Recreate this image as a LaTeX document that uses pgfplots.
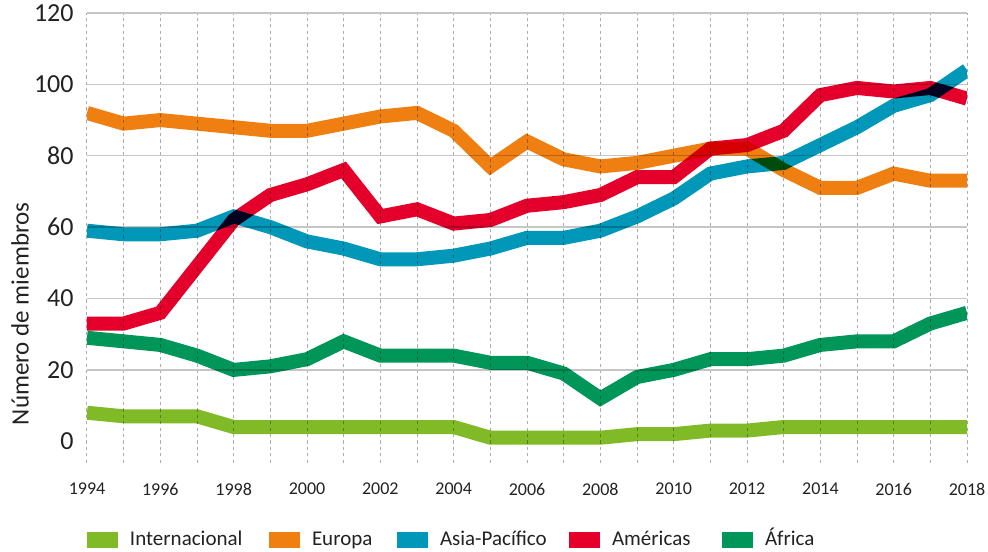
\documentclass[border=0pt]{standalone}
\usepackage{pgfplots}
\pgfplotsset{compat=1.18}
\usepackage{pgfplotstable}
\usepackage{fontspec}
\setmainfont{Carlito}
\definecolor{cInt}{HTML}{80BA27}
\definecolor{cEur}{HTML}{F07F12}
\definecolor{cAsi}{HTML}{0097B8}
\definecolor{cAme}{HTML}{E4002B}
\definecolor{cAfr}{HTML}{00965A}
\definecolor{txt}{HTML}{222222}
\pgfplotstableread{
year int eur asi ame afr
1994 8 92 59 33 29
1995 7 89 58 33 28
1996 7 90 58 36 27
1997 7 89 59 49 24
1998 4 88 63 62 20
1999 4 87 60 69 21
2000 4 87 56 72 23
2001 4 89 54 76 28
2002 4 91 51 63 24
2003 4 92 51 65 24
2004 4 87 52 61 24
2005 1 77 54 62 22
2006 1 84 57 66 22
2007 1 79 57 67 19
2008 1 77 59 69 12
2009 2 78 63 74 18
2010 2 80 68 74 20
2011 3 82 75 82 23
2012 3 82 77 83 23
2013 4 76 78 87 24
2014 4 71 83 97 27
2015 4 71 88 99 28
2016 4 75 94 98 28
2017 4 73 97 99 33
2018 4 73 104 96 36
}\data
\begin{document}
\begin{tikzpicture}
\useasboundingbox (-43.5pt,-44.15pt) rectangle (450.5pt,231.35pt);
\begin{axis}[
  at={(0,0)}, anchor=south west,
  scale only axis, width=440pt, height=224.85pt,
  xmin=1994, xmax=2018, ymin=-6, ymax=120,
  axis line style={draw=none},
  major tick length=0pt, minor tick length=0pt,
  xtick={1994,1996,...,2018},
  minor xtick={1995,1997,...,2017},
  xmajorgrids, xminorgrids,
  grid style={dashed, dash pattern=on 1.6pt off 1.6pt, gray!65, line width=0.5pt},
  ytick={0,20,...,120},
  extra y ticks={20,40,...,120},
  extra y tick labels={},
  extra y tick style={grid=major, major grid style={solid, gray!45, line width=0.7pt}},
  /pgf/number format/1000 sep={},
  /pgf/number format/assume math mode=true,
  xticklabel style={font=\fontsize{9}{10}\selectfont, text=txt, anchor=center, inner sep=0pt, yshift=-13.2pt},
  yticklabel style={font=\fontsize{13}{15}\selectfont, text=txt, anchor=east, inner sep=0pt, xshift=-6.5pt},
  ylabel={Número de miembros},
  ylabel style={font=\fontsize{12.5}{15}\selectfont, text=txt, at={(axis description cs:-0.0761,0.331)}, anchor=center},
  clip=true,
  every axis plot/.append style={line width=7pt, line join=miter, line cap=butt, blend mode=multiply,
    legend image code/.code={\path[fill, draw=none, line width=0pt] (0pt,-4pt) rectangle (15.5pt,4pt);}},
  legend columns=5,
  legend style={at={(axis description cs:0.0,-0.172)}, anchor=west, draw=none, fill=none, inner sep=0pt,
    font=\fontsize{10.5}{12}\selectfont, text=txt,
    nodes={inner sep=0pt, text height=7.2pt, text depth=2.2pt},
    /tikz/column sep=0pt,
    /tikz/every even column/.append style={column sep=0pt},
    /tikz/every odd column/.append style={column sep=0pt}},
]
\addplot[cInt] table[x=year,y=int]{\data};
\addlegendentry{\hspace{5.8pt}\makebox[69.7pt][l]{Internacional}}
\addplot[cEur] table[x=year,y=eur]{\data};
\addlegendentry{\hspace{5.8pt}\makebox[42.7pt][l]{Europa}}
\addplot[cAsi] table[x=year,y=asi]{\data};
\addlegendentry{\hspace{5.8pt}\makebox[64.7pt][l]{Asia-Pacífico}}
\addplot[cAme] table[x=year,y=ame]{\data};
\addlegendentry{\hspace{5.8pt}\makebox[55.2pt][l]{Américas}}
\addplot[cAfr] table[x=year,y=afr]{\data};
\addlegendentry{\hspace{5.8pt}África}
\end{axis}
\end{tikzpicture}
\end{document}
